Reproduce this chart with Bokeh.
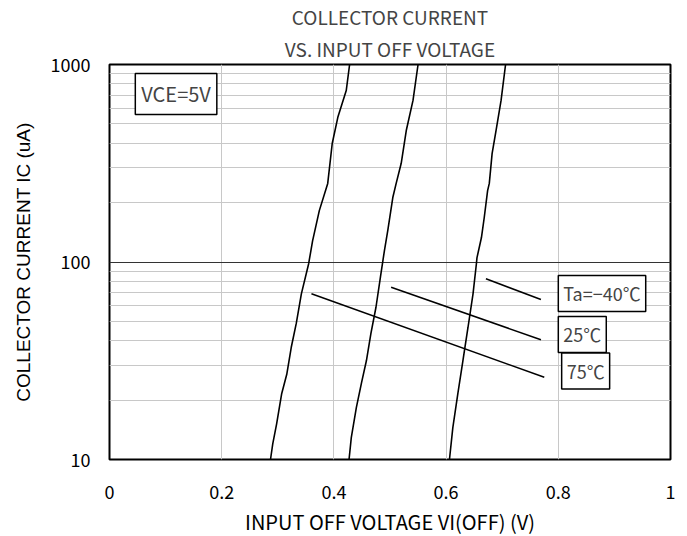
from bokeh.plotting import figure
from bokeh.models import FixedTicker, Label, Title
from bokeh.embed import file_html
from bokeh.resources import INLINE

# ---- data ----
x_75 = [0.287, 0.291, 0.298, 0.307, 0.316, 0.324, 0.333, 0.342, 0.355, 0.362, 0.374, 0.389, 0.397, 0.407, 0.422, 0.428]
y_75 = [10, 12.0, 15.2, 21.6, 27, 37, 49, 69, 98, 128, 182, 250, 398, 540, 738, 1000]

x_25 = [0.427, 0.431, 0.440, 0.449, 0.458, 0.466, 0.475, 0.483, 0.490, 0.496, 0.505, 0.511, 0.520, 0.529, 0.541, 0.550]
y_25 = [10, 12.9, 18.3, 24.3, 31.7, 43.5, 59, 84, 114, 144, 212, 250, 316, 463, 658, 1000]

x_m40 = [0.606, 0.612, 0.621, 0.630, 0.639, 0.648, 0.654, 0.655, 0.663, 0.668, 0.674, 0.677, 0.682, 0.689, 0.698, 0.706]
y_m40 = [10, 14.5, 21.6, 31.7, 46.6, 69, 98, 105, 133, 168, 230, 250, 354, 463, 658, 1000]

lead_x = [[0.671, 0.769], [0.502, 0.769], [0.360, 0.775]]
lead_y = [[82.2, 64.6], [74.5, 40.4], [69.0, 26.1]]

series_labels = ["Ta=\u221240\u2103", "25\u2103", "75\u2103"]
x_ticks = [0, 0.2, 0.4, 0.6, 0.8, 1.0]
x_tick_labels = {0: "0", 0.2: "0.2", 0.4: "0.4", 0.6: "0.6", 0.8: "0.8", 1.0: "1"}
y_ticks = [10, 100, 1000]
y_tick_labels = {10: "10", 100: "100", 1000: "1000"}
y_minor = [20, 30, 40, 50, 60, 70, 80, 90, 200, 300, 400, 500, 600, 700, 800, 900]

FONT = "Noto Sans CJK JP"

p = figure(frame_width=561, frame_height=395, y_axis_type="log",
           x_range=(0, 1), y_range=(10, 1000), title=None,
           output_backend="svg", toolbar_location=None,
           min_border_left=109, min_border_top=60, min_border_bottom=64, min_border_right=8)

p.add_layout(Title(text="VS. INPUT OFF VOLTAGE", align="center", text_font=FONT,
                   text_font_size="19px", text_font_style="normal", standoff=6,
                   text_line_height=1.0), "above")
p.add_layout(Title(text="COLLECTOR CURRENT", align="center", text_font=FONT,
                   text_font_size="19px", text_font_style="normal", standoff=0,
                   text_line_height=1.0), "above")

# axes
p.xaxis.ticker = FixedTicker(ticks=x_ticks)
p.xaxis.major_label_overrides = x_tick_labels
p.yaxis.ticker = FixedTicker(ticks=y_ticks, minor_ticks=y_minor)
p.yaxis.major_label_overrides = y_tick_labels
for ax in (p.xaxis, p.yaxis):
    ax.axis_line_color = None
    ax.major_tick_line_color = None
    ax.minor_tick_line_color = None
    ax.major_label_text_font = FONT
    ax.major_label_text_font_size = "18px"
    ax.major_label_text_color = "black"
    ax.axis_label_text_font_style = "normal"
    ax.axis_label_text_color = "black"
p.xaxis.major_label_standoff = 19
p.yaxis.major_label_standoff = 13
p.xaxis.axis_label = "INPUT OFF VOLTAGE VI(OFF) (V)"
p.xaxis.axis_label_text_font = FONT
p.xaxis.axis_label_text_font_size = "20px"
p.xaxis.axis_label_standoff = 5
p.yaxis.axis_label = "COLLECTOR CURRENT IC (uA)"
p.yaxis.axis_label_text_font = "Liberation Sans"
p.yaxis.axis_label_text_font_size = "19px"
p.yaxis.axis_label_standoff = 14

# grids
p.xgrid.grid_line_color = "#c8c8c8"
p.xgrid.grid_line_width = 1
p.ygrid.grid_line_color = "#333333"
p.ygrid.grid_line_width = 1
p.ygrid.minor_grid_line_color = "#c8c8c8"
p.ygrid.minor_grid_line_width = 1

p.outline_line_color = "black"
p.outline_line_width = 2
p.background_fill_color = "white"

# curves
for xs, ys in ((x_75, y_75), (x_25, y_25), (x_m40, y_m40)):
    p.line(xs, ys, line_color="black", line_width=1.6)

# leader lines
p.multi_line(lead_x, lead_y, line_color="black", line_width=1.5)

# labels
label_pos = [(0.800, 69.3), (0.800, 43.0), (0.806, 28.1)]
for txt, (lx, ly) in zip(series_labels, label_pos):
    p.add_layout(Label(x=lx, y=ly, text=txt, text_font=FONT, text_font_size="18px",
                       text_baseline="middle", text_align="left", padding=5,
                       border_line_color="black", border_line_width=1.5,
                       background_fill_color="white"))

p.add_layout(Label(x=0.046, y=710, text="VCE=5V", text_font=FONT, text_font_size="20px",
                   text_baseline="middle", text_align="left", padding=6,
                   border_line_color="black", border_line_width=1.5,
                   background_fill_color="white"))

open("out.html", "w").write(file_html(p, INLINE))
